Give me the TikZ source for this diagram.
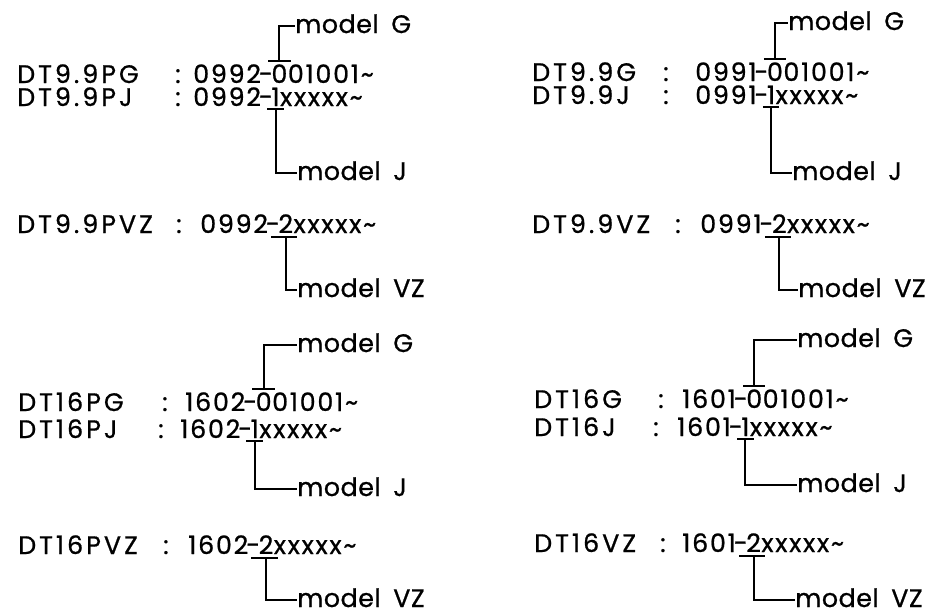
\documentclass[tikz,border=0pt]{standalone}
\usepackage{fontspec}
\setmainfont{Poppins}[FakeBold=0.8, Numbers=Monospaced, LetterSpace=7]
\usetikzlibrary{calc}

\begin{document}
\begin{tikzpicture}[x=0.75pt, y=-0.75pt,
  every node/.style={font=\fontsize{19}{21}\selectfont, inner sep=0pt, anchor=base west},
  lab/.style={font=\fontsize{19}{21}\selectfont\addfontfeatures{LetterSpace=12}},
  mdl/.style={font=\fontsize{19}{21}\selectfont\addfontfeatures{LetterSpace=2}},
  brk/.style={line width=1.5pt}]

\useasboundingbox (0,0) rectangle (927,614);

%% ── DT9.9P series (top left) ─────────────────────────────────────
\node[mdl] (aGmod) at (295,33) {model\hspace{0.5em}G};
\node[lab] (aGlab) at (17,83)  {DT9.9PG};
\node (aGcol) at (175,83) {:};
\node (aGpre) at (193,83) {0992\kern-1.5pt-\kern-1.5pt};
\node (aGmk)  at (aGpre.base east) {0};
\node (aGsuf) at (aGmk.base east)  {01001\textasciitilde};
\node[lab] (aJlab) at (17,106) {DT9.9PJ};
\node (aJcol) at (175,106) {:};
\node (aJpre) at (193,106) {0992\kern-1.5pt-\kern-1.5pt};
\node (aJmk)  at (aJpre.base east) {1};
\node (aJsuf) at (aJmk.base east)  {xxxxx\textasciitilde};
\node[mdl] (aJmod) at (297,180) {model\hspace{0.5em}J};
\node[lab] (aVlab) at (17,233) {DT9.9PVZ};
\node (aVcol) at (176,233) {:};
\node (aVpre) at (200,233) {0992\kern-1.5pt-\kern-1.5pt};
\node (aVmk)  at (aVpre.base east) {2};
\node (aVsuf) at (aVmk.base east)  {xxxxx\textasciitilde};
\node[mdl] (aVmod) at (297,297) {model\hspace{0.5em}VZ};

%% ── DT9.9 series (top right) ─────────────────────────────────────
\node[mdl] (bGmod) at (788,30) {model\hspace{0.5em}G};
\node[lab] (bGlab) at (532,81)  {DT9.9G};
\node (bGcol) at (663,81) {:};
\node (bGpre) at (695,81) {0991\kern-1.5pt-\kern-1.5pt};
\node (bGmk)  at (bGpre.base east) {0};
\node (bGsuf) at (bGmk.base east)  {01001\textasciitilde};
\node[lab] (bJlab) at (532,104) {DT9.9J};
\node (bJcol) at (663,104) {:};
\node (bJpre) at (695,104) {0991\kern-1.5pt-\kern-1.5pt};
\node (bJmk)  at (bJpre.base east) {1};
\node (bJsuf) at (bJmk.base east)  {xxxxx\textasciitilde};
\node[mdl] (bJmod) at (792,180) {model\hspace{0.5em}J};
\node[lab] (bVlab) at (532,233) {DT9.9VZ};
\node (bVcol) at (675,233) {:};
\node (bVpre) at (700,233) {0991\kern-1.5pt-\kern-1.5pt};
\node (bVmk)  at (bVpre.base east) {2};
\node (bVsuf) at (bVmk.base east)  {xxxxx\textasciitilde};
\node[mdl] (bVmod) at (798,297) {model\hspace{0.5em}VZ};

%% ── DT16P series (bottom left) ───────────────────────────────────
\node[mdl] (cGmod) at (297,352) {model\hspace{0.5em}G};
\node[lab] (cGlab) at (18,411) {DT16PG};
\node (cGcol) at (162,411) {:};
\node (cGpre) at (185,411) {1602\kern-1.5pt-\kern-1.5pt};
\node (cGmk)  at (cGpre.base east) {0};
\node (cGsuf) at (cGmk.base east)  {01001\textasciitilde};
\node[lab] (cJlab) at (18,438) {DT16PJ};
\node (cJcol) at (158,438) {:};
\node (cJpre) at (180,438) {1602\kern-1.5pt-\kern-1.5pt};
\node (cJmk)  at (cJpre.base east) {1};
\node (cJsuf) at (cJmk.base east)  {xxxxx\textasciitilde};
\node[mdl] (cJmod) at (297,496) {model\hspace{0.5em}J};
\node[lab] (cVlab) at (18,554) {DT16PVZ};
\node (cVcol) at (163,554) {:};
\node (cVpre) at (188,554) {1602\kern-1.5pt-\kern-1.5pt};
\node (cVmk)  at (cVpre.base east) {2};
\node (cVsuf) at (cVmk.base east)  {xxxxx\textasciitilde};
\node[mdl] (cVmod) at (297,607) {model\hspace{0.5em}VZ};

%% ── DT16 series (bottom right) ───────────────────────────────────
\node[mdl] (dGmod) at (797,347) {model\hspace{0.5em}G};
\node[lab] (dGlab) at (534,408) {DT16G};
\node (dGcol) at (658,408) {:};
\node (dGpre) at (682,408) {1601\kern-1.5pt-\kern-1.5pt};
\node (dGmk)  at (dGpre.base east) {0};
\node (dGsuf) at (dGmk.base east)  {01001\textasciitilde};
\node[lab] (dJlab) at (534,436) {DT16J};
\node (dJcol) at (653,436) {:};
\node (dJpre) at (677,436) {1601\kern-1.5pt-\kern-1.5pt};
\node (dJmk)  at (dJpre.base east) {1};
\node (dJsuf) at (dJmk.base east)  {xxxxx\textasciitilde};
\node[mdl] (dJmod) at (797,492) {model\hspace{0.5em}J};
\node[lab] (dVlab) at (534,552) {DT16VZ};
\node (dVcol) at (660,552) {:};
\node (dVpre) at (682,552) {1601\kern-1.5pt-\kern-1.5pt};
\node (dVmk)  at (dVpre.base east) {2};
\node (dVsuf) at (dVmk.base east)  {xxxxx\textasciitilde};
\node[mdl] (dVmod) at (795,607) {model\hspace{0.5em}VZ};

%% ── Brackets: marked digit -> model name ─────────────────────────
\foreach \s in {a,b,c,d}{
  % model G: bar over the first 0
  \draw[brk] ($(\s Gmk.north west)+(-3,-3)$) -- ($(\s Gmk.north east)+(3,-3)$);
  \draw[brk] ($(\s Gmk.north)+(0,-3)$) |- ([yshift=-2pt]\s Gmod.west);
  % model J: bar under the 1
  \draw[brk] ($(\s Jmk.south west)+(-4,3)$) -- ($(\s Jmk.south east)+(4,3)$);
  \draw[brk] ($(\s Jmk.south)+(0,3)$) |- ([yshift=-2pt]\s Jmod.west);
  % model VZ: bar under the 2
  \draw[brk] ($(\s Vmk.south west)+(-7,4)$) -- ($(\s Vmk.south east)+(4,4)$);
  \draw[brk] ($(\s Vmk.south)+(0,4)$) |- ([yshift=-2pt]\s Vmod.west);
}
\end{tikzpicture}
\end{document}
